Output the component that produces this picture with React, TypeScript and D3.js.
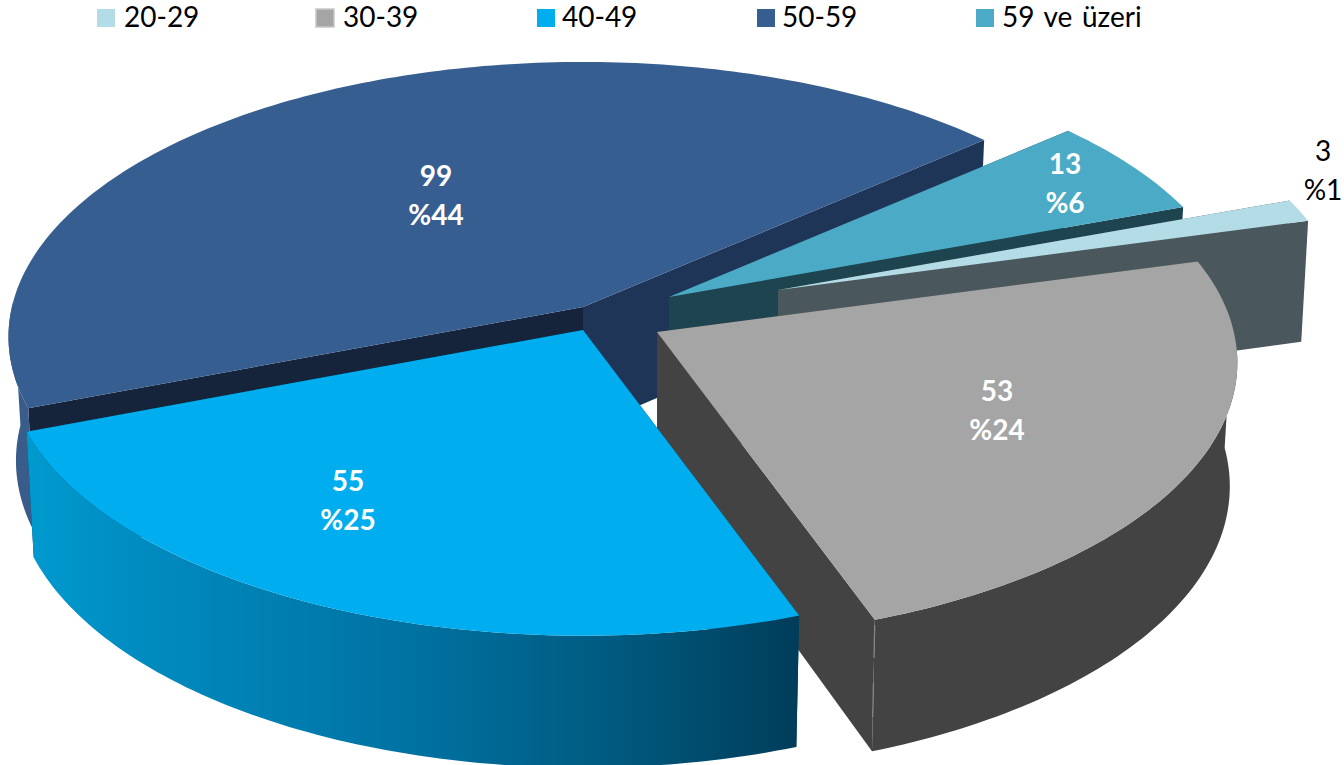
import React from "react";
import * as d3 from "d3";

// ---- data
const categories = ["20-29", "30-39", "40-49", "50-59", "59 ve üzeri"];
const counts = [3, 53, 55, 99, 13];
const percents = ["%1", "%24", "%25", "%44", "%6"];

// ---- styling per slice
const topColors = ["#B4DCE6", "#A5A5A5", "#00AEEF", "#375E90", "#4BAAC5"];
const outerWallColors = ["#4A575C", "#434343", "url(#blueWall)", "#3A5C8B", "#1E444F"];
const startWallColors = ["#4A575C", "#434343", "#003D5A", "#15243A", "#1E444F"];
const endWallColors = ["#4A575C", "#434343", "#003D5A", "#1F3557", "#1E444F"];
const labelColors = ["#000000", "#FFFFFF", "#FFFFFF", "#FFFFFF", "#FFFFFF"];
const labelWeights = [400, 700, 700, 700, 700];

// ---- layout per slice (the exploded position of each slice's apex)
const apexX = [778, 657, 583, 583, 669];
const apexY = [290, 332, 330, 307, 297];
const radiusScale = [0.985, 1.005, 0.998, 0.995, 0.99];
const labelX = [1323, 997, 348, 436, 1065];
const labelY = [151, 391, 481, 176, 164];
const labelGap = 39;
const drawOrder = [3, 4, 0, 1, 2];
const legendSwatchX = [97, 316, 537, 757, 976];
const legendTextX = [124, 343, 562, 782, 1002];
const legendStroke = ["none", "#C8C8C8", "none", "none", "none"];

// ---- projection
const W = 1344;
const H = 765;
const R = 574;
const RY_TOP = 273;
const RY_BOTTOM = 281;
const K = 0.109;
const DEPTH = 123;
const BOTTOM_SHRINK = 0.987;
const START_ANGLE = (69.8 * Math.PI) / 180;
const FRONT_LIMIT = -0.03;

type Pt = [number, number];

function project(i: number, a: number, r: number, bottom: boolean): Pt {
  const X = Math.sin(a) * r * radiusScale[i];
  const Y = -Math.cos(a) * r * radiusScale[i];
  const s = 1 / (1 - K * Y);
  return bottom
    ? [apexX[i] + R * BOTTOM_SHRINK * X * s, apexY[i] + DEPTH + RY_BOTTOM * Y * s]
    : [apexX[i] + R * X * s, apexY[i] + RY_TOP * Y * s];
}

const line = d3.line<Pt>();
const pieGen = d3
  .pie<number>()
  .sort(null)
  .startAngle(START_ANGLE)
  .endAngle(START_ANGLE + 2 * Math.PI);

const arcs = pieGen(counts);

function arcAngles(start: number, end: number): number[] {
  const n = Math.max(4, Math.ceil(((end - start) * 180) / Math.PI));
  return d3.range(n + 1).map((k) => start + ((end - start) * k) / n);
}

function radialWall(i: number, a: number): string {
  return (
    line([
      project(i, a, 0, false),
      project(i, a, 1, false),
      project(i, a, 1, true),
      project(i, a, 0, true),
    ]) + "Z"
  );
}

export default function App() {
  const font = "Lato, Carlito, Calibri, sans-serif";
  const grayEnd = arcs[1].endAngle;
  const cTop = project(1, grayEnd, 1, false);
  const cBot = project(1, grayEnd, 1, true);
  const along = (t: number): Pt => [
    cTop[0] + (cBot[0] - cTop[0]) * t,
    cTop[1] + (cBot[1] - cTop[1]) * t,
  ];
  return (
    <svg
      width={W}
      height={H}
      viewBox={`0 0 ${W} ${H}`}
      style={{ position: "absolute", left: 0, top: 0, display: "block", background: "#fff" }}
    >
      <defs>
        <linearGradient id="blueWall" gradientUnits="userSpaceOnUse" x1={25} x2={797} y1={0} y2={0}>
          <stop offset="0" stopColor="#009ACF" />
          <stop offset="0.18" stopColor="#0089BD" />
          <stop offset="0.5" stopColor="#0072A2" />
          <stop offset="0.78" stopColor="#00587D" />
          <stop offset="1" stopColor="#003D5A" />
        </linearGradient>
      </defs>

      {drawOrder.map((i) => {
        const { startAngle, endAngle } = arcs[i];
        const angles = arcAngles(startAngle, endAngle);
        const frontAngles = angles.filter((a) => -Math.cos(a) >= FRONT_LIMIT);
        const topArc = angles.map((a) => project(i, a, 1, false));
        const frontTop = frontAngles.map((a) => project(i, a, 1, false));
        const frontBot = frontAngles.map((a) => project(i, a, 1, true));
        return (
          <g key={categories[i]}>
            <path d={radialWall(i, startAngle)} fill={startWallColors[i]} />
            <path d={radialWall(i, endAngle)} fill={endWallColors[i]} />
            {frontAngles.length > 1 && (
              <path
                d={line([...frontTop, ...frontBot.slice().reverse()]) + "Z"}
                fill={outerWallColors[i]}
              />
            )}
            <path d={line([project(i, 0, 0, false), ...topArc]) + "Z"} fill={topColors[i]} />
          </g>
        );
      })}

      <line
        x1={along(0.04)[0]} y1={along(0.04)[1]} x2={along(0.29)[0]} y2={along(0.29)[1]}
        stroke="#8a8a8a" strokeWidth={1.2}
      />
      <line
        x1={along(0.48)[0]} y1={along(0.48)[1]} x2={along(0.74)[0]} y2={along(0.74)[1]}
        stroke="#8a8a8a" strokeWidth={1.2}
      />

      {categories.map((c, i) => (
        <g key={c} fontFamily={font} textAnchor="middle" fontSize={28}>
          <text x={labelX[i]} y={labelY[i]} dy="0.35em" fill={labelColors[i]} fontWeight={labelWeights[i]}>
            {counts[i]}
          </text>
          <text x={labelX[i]} y={labelY[i] + labelGap} dy="0.35em" fill={labelColors[i]} fontWeight={labelWeights[i]}>
            {percents[i]}
          </text>
        </g>
      ))}

      {categories.map((c, i) => (
        <g key={"legend" + c}>
          <rect
            x={legendSwatchX[i]}
            y={9}
            width={18}
            height={18}
            fill={topColors[i]}
            stroke={legendStroke[i]}
            strokeWidth={1.5}
          />
          <text x={legendTextX[i]} y={27} fontFamily={font} fontSize={28} fill="#000" wordSpacing={2.5}>
            {c}
          </text>
        </g>
      ))}
    </svg>
  );
}
